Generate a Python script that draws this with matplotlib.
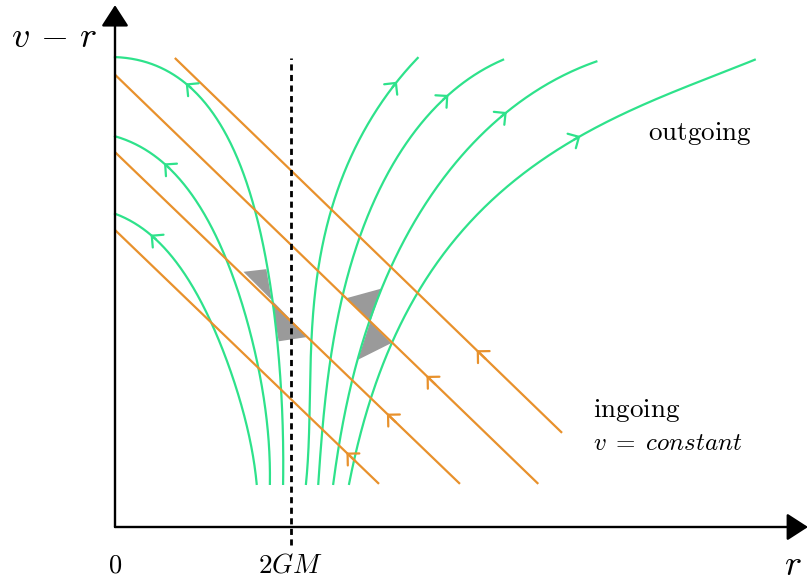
import numpy as np
import matplotlib.pyplot as plt

plt.rcParams['mathtext.fontset'] = 'cm'

GREEN = '#2ee28b'
ORANGE = '#e8912c'
GREY = '#9a9a9a'

# r in units of GM (horizon 2GM at r = 2), vertical coordinate is v - r
# outgoing rays inside the horizon (listed from r = 0 downwards)
in1_r = [0.0, 0.28, 0.52, 0.80, 1.01, 1.18, 1.34, 1.48, 1.57, 1.69, 1.79, 1.85, 1.90, 1.91]
in1_y = [5.34, 5.30, 5.20, 5.05, 4.86, 4.63, 4.33, 3.96, 3.61, 3.11, 2.58, 2.05, 1.52, 0.49]
in2_r = [0.0, 0.25, 0.55, 0.89, 1.08, 1.25, 1.46, 1.63, 1.72, 1.76]
in2_y = [4.44, 4.36, 4.13, 3.75, 3.45, 3.07, 2.47, 1.82, 1.25, 0.49]
in3_r = [0.0, 0.21, 0.40, 0.70, 0.93, 1.10, 1.36, 1.52, 1.61]
in3_y = [3.56, 3.47, 3.32, 3.00, 2.66, 2.30, 1.63, 1.06, 0.49]

# outgoing rays outside the horizon (listed from the bottom up)
outA_r = [2.17, 2.22, 2.28, 2.46, 2.67, 2.90, 3.20, 3.44]
outA_y = [0.49, 1.63, 2.77, 3.60, 4.17, 4.63, 5.06, 5.33]
outB_r = [2.31, 2.37, 2.48, 2.59, 2.78, 3.05, 3.39, 3.79, 4.07, 4.41]
outB_y = [0.49, 1.25, 2.09, 2.66, 3.30, 3.91, 4.47, 4.91, 5.14, 5.31]
outC_r = [2.48, 2.59, 2.76, 2.90, 3.03, 3.43, 3.81, 4.45, 4.94, 5.47]
outC_y = [0.49, 1.25, 1.90, 2.33, 2.71, 3.53, 4.06, 4.72, 5.04, 5.29]
outD_r = [2.66, 2.78, 2.97, 3.14, 3.47, 3.81, 4.38, 4.83, 5.30, 5.89, 6.57, 7.27]
outD_y = [0.49, 1.06, 1.63, 2.09, 2.69, 3.19, 3.83, 4.17, 4.43, 4.74, 5.04, 5.31]

# (r, y, index of the arrow, direction along the list: -1 towards the start)
outgoing = [
    (in1_r, in1_y, 3, -1), (in2_r, in2_y, 2, -1), (in3_r, in3_y, 2, -1),
    (outA_r, outA_y, 6, 1), (outB_r, outB_y, 7, 1),
    (outC_r, outC_y, 7, 1), (outD_r, outD_y, 8, 1),
]

# ingoing rays v = constant: end points
ingoing_r0 = [0.68, 0.0, 0.0, 0.0]
ingoing_y0 = [5.33, 5.14, 4.26, 3.375]
ingoing_r1 = [5.08, 4.81, 3.92, 3.00]
ingoing_y1 = [1.07, 0.49, 0.49, 0.49]
ingoing_arrow_r = [4.11, 3.54, 3.09, 2.63]

# light cones (two triangles each)
cone_l_up_r = [1.46, 1.72, 1.78]
cone_l_up_y = [2.90, 2.93, 2.58]
cone_l_dn_r = [1.78, 1.86, 2.19]
cone_l_dn_y = [2.58, 2.11, 2.16]
cone_r_up_r = [2.63, 3.03, 2.90]
cone_r_up_y = [2.60, 2.71, 2.33]
cone_r_dn_r = [2.90, 3.14, 2.76]
cone_r_dn_y = [2.33, 2.09, 1.90]

horizon = 2.0
r_max = 7.875
y_max = 5.93
px = 88.0

fig = plt.figure(figsize=(8.09, 5.84), dpi=100)
ax = fig.add_axes([0, 0, 1, 1])
ax.set_xlim(-115 / px, (809 - 115) / px)
ax.set_ylim(-(584 - 527) / px, 527 / px)
ax.axis('off')

for cr, cy in [(cone_l_up_r, cone_l_up_y), (cone_l_dn_r, cone_l_dn_y),
               (cone_r_up_r, cone_r_up_y), (cone_r_dn_r, cone_r_dn_y)]:
    ax.fill(cr, cy, color=GREY, lw=0, zorder=1)


def smooth_fit(r, y):
    # least-squares smoothing of the read points along their chord length
    p = np.column_stack([r, y])
    d = np.hypot(*np.diff(p, axis=0).T)
    t = np.r_[0, np.cumsum(d)] / d.sum()
    w = np.ones(len(t))
    w[0] = w[-1] = 10
    deg = min(4, len(t) - 2)
    return t, np.polyfit(t, r, deg, w=w), np.polyfit(t, y, deg, w=w)


def chevron(tail, tip, color):
    ax.annotate('', xy=tip, xytext=tail,
                arrowprops=dict(arrowstyle='->,head_length=0.5,head_width=0.5',
                                color=color, lw=1.6, shrinkA=0, shrinkB=0,
                                mutation_scale=12), zorder=3)


tt = np.linspace(0, 1, 300)
for r, y, i, sgn in outgoing:
    t, cx, cy = smooth_fit(r, y)
    ax.plot(np.polyval(cx, tt), np.polyval(cy, tt), color=GREEN, lw=1.6, zorder=2)
    tip = np.array([np.polyval(cx, t[i]), np.polyval(cy, t[i])])
    u = sgn * np.array([np.polyval(np.polyder(cx), t[i]), np.polyval(np.polyder(cy), t[i])])
    u = u / np.hypot(*u)
    chevron(tip - 0.08 * u, tip, GREEN)

for r0, y0, r1, y1, ra in zip(ingoing_r0, ingoing_y0, ingoing_r1, ingoing_y1, ingoing_arrow_r):
    ax.plot([r0, r1], [y0, y1], color=ORANGE, lw=1.6, zorder=2, solid_capstyle='butt')
    ya = np.interp(ra, [r0, r1], [y0, y1])
    yt = np.interp(ra + 0.1, [r0, r1], [y0, y1])
    chevron((ra + 0.1, yt), (ra, ya), ORANGE)

# horizon
ax.plot([horizon, horizon], [-0.20, 5.33], color='k', lw=2, ls=(0, (2.2, 1.6)), zorder=4)

# axes with arrows
axis_arrow = dict(arrowstyle='-|>,head_length=0.65,head_width=0.42', mutation_scale=20,
                  lw=1.7, color='k', shrinkA=0, shrinkB=0)
ax.annotate('', xy=(r_max, 0), xytext=(0, 0), arrowprops=axis_arrow, zorder=5)
ax.annotate('', xy=(0, y_max), xytext=(0, 0), arrowprops=axis_arrow, zorder=5)

ax.text(-0.69, 5.57, r'$v\,-\,r$', fontsize=26, ha='center', va='center')
ax.text(7.70, -0.43, r'$r$', fontsize=26, ha='center', va='center')
ax.text(0, -0.44, r'$0$', fontsize=19, ha='center', va='center')
ax.text(horizon, -0.44, r'$2GM$', fontsize=19.5, ha='center', va='center')
ax.text(6.06, 4.40, r'$\mathrm{outgoing}$', fontsize=19.5, ha='left', va='baseline')
ax.text(5.43, 1.25, r'$\mathrm{ingoing}$', fontsize=19.5, ha='left', va='baseline')
ax.text(5.43, 0.875, r'$v\;=\;constant$', fontsize=18, ha='left', va='baseline')

fig.savefig('out.png', dpi=100)
